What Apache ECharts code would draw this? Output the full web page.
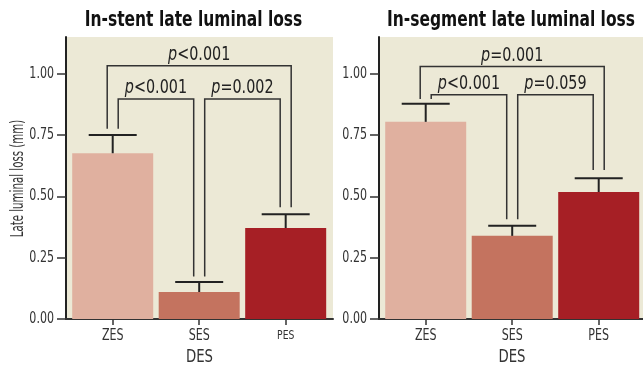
<!DOCTYPE html>
<html><head><meta charset="utf-8">
<script src="https://cdn.jsdelivr.net/npm/echarts@6/dist/echarts.min.js"></script>
<style>html,body{margin:0;padding:0;background:#fff}#c{width:643px;height:367px}</style>
</head><body><div id="c"></div>
<script>
const categories = ['ZES', 'SES', 'PES'];
const stentMean = [0.676, 0.110, 0.371];
const stentUpper = [0.750, 0.151, 0.427];
const segMean = [0.804, 0.339, 0.518];
const segUpper = [0.878, 0.380, 0.574];
const yTicks = [0, 0.25, 0.5, 0.75, 1.0];
const pairs = [[0, 2], [0, 1], [1, 2]];
const stentLevels = [1.033, 0.897, 0.897];
const stentLegEnds = [0.776, 0.173, 0.456];
const stentP = ['<0.001', '<0.001', '=0.002'];
const segLevels = [1.030, 0.915, 0.915];
const segLegEnds = [0.897, 0.407, 0.608];
const segP = ['=0.001', '<0.001', '=0.059'];
const colors = ['#E0B09F', '#C4735F', '#A61F25'];
const catLabelSize = [[15, 15, 12.5], [15, 15, 15]];

const FONT = '"DejaVu Sans Condensed", sans-serif';
const SQ = 0.82;
const chart = echarts.init(document.getElementById('c'), null, {renderer: 'canvas'});
const idxs = categories.map((c, i) => i);

function errSeries(g, mean, upper) {
  return {
    type: 'custom', xAxisIndex: g, yAxisIndex: g, z: 5,
    data: idxs.map(i => [i, mean[i], upper[i]]),
    encode: {x: 0, y: [1, 2]},
    renderItem: function (params, api) {
      const i = api.value(0);
      const p0 = api.coord([i, api.value(1)]);
      const p1 = api.coord([i, api.value(2)]);
      const st = {stroke: '#222', lineWidth: 2};
      return {type: 'group', children: [
        {type: 'line', shape: {x1: p0[0], y1: p0[1], x2: p1[0], y2: p1[1]}, style: st},
        {type: 'line', shape: {x1: p1[0] - 24, y1: p1[1], x2: p1[0] + 24, y2: p1[1]}, style: st}
      ]};
    }
  };
}

function bracketSeries(g, levels, legEnds, plabels) {
  return {
    type: 'custom', xAxisIndex: g, yAxisIndex: g, z: 6,
    data: pairs.map((p, k) => [p[0], p[1], levels[k]]),
    encode: {x: [0, 1], y: 2},
    renderItem: function (params, api) {
      const k = params.dataIndex;
      const from = api.value(0), to = api.value(1), lev = api.value(2);
      const outer = (to - from) === 2;
      const s = 5.5;
      const yTop = api.coord([from, lev])[1];
      const xl = api.coord([from, lev])[0] + (outer ? -s : s);
      const xr = api.coord([to, lev])[0] + (outer ? s : -s);
      const yl = api.coord([from, legEnds[from]])[1];
      const yr = api.coord([to, legEnds[to]])[1];
      return {type: 'group', children: [
        {type: 'polyline', shape: {points: [[xl, yl], [xl, yTop], [xr, yTop], [xr, yr]]},
          style: {stroke: '#333', lineWidth: 1.5, fill: null}},
        {type: 'text', x: (xl + xr) / 2, y: yTop - 1, scaleX: 0.84,
          style: {text: '{i|p}{n|' + plabels[k] + '}', align: 'center', verticalAlign: 'bottom',
            rich: {
              i: {fontStyle: 'italic', fontSize: 19, fontFamily: FONT, fill: '#222'},
              n: {fontSize: 19, fontFamily: FONT, fill: '#222'}
            }}}
      ]};
    }
  };
}

// category labels under the x axis (condensed look)
function catLabelSeries(g) {
  return {
    type: 'custom', xAxisIndex: g, yAxisIndex: g, z: 7, clip: false,
    data: idxs.map(i => [i, 0]),
    encode: {x: 0, y: 1},
    renderItem: function (params, api) {
      const i = api.value(0);
      const p = api.coord([i, 0]);
      return {type: 'text', x: p[0], y: p[1] + 17, scaleX: SQ,
        style: {text: categories[i], fontSize: catLabelSize[g][i], fontFamily: FONT, fill: '#333',
          align: 'center', verticalAlign: 'middle'}};
    }
  };
}

// y tick labels (condensed look)
function yLabelSeries(g) {
  return {
    type: 'custom', xAxisIndex: g, yAxisIndex: g, z: 7, clip: false,
    data: yTicks.map(v => [0, v]),
    encode: {x: 0, y: 1},
    renderItem: function (params, api) {
      const v = api.value(1);
      const p = api.coord([0, v]);
      return {type: 'text', x: params.coordSys.x - 12, y: p[1], scaleX: SQ,
        style: {text: v.toFixed(2), fontSize: 15, fontFamily: FONT, fill: '#333',
          align: 'right', verticalAlign: 'middle'}};
    }
  };
}

function xAxis(g, max) {
  return {
    type: 'value', gridIndex: g, min: -0.54, max: max,
    splitLine: {show: false},
    axisLine: {show: true, onZero: false, lineStyle: {color: '#333', width: 2}},
    axisTick: {show: true, length: 6, customValues: idxs, lineStyle: {color: '#333', width: 1.5}},
    axisLabel: {show: false}
  };
}

function yAxis(g) {
  return {
    type: 'value', gridIndex: g, min: 0, max: 1.15, interval: 0.25,
    splitLine: {show: false},
    axisLine: {show: true, onZero: false, lineStyle: {color: '#222', width: 2}},
    axisTick: {show: true, length: 9, customValues: yTicks, lineStyle: {color: '#333', width: 1.5}},
    axisLabel: {show: false}
  };
}

function barSeries(g, vals) {
  return {
    type: 'bar', xAxisIndex: g, yAxisIndex: g, barWidth: 81,
    data: idxs.map(i => ({value: [i, vals[i]], itemStyle: {color: colors[i]}}))
  };
}

function label(text, x, y, size, sx, extra) {
  return Object.assign({type: 'text', x: x, y: y, scaleX: sx, z: 10,
    style: Object.assign({text: text, fontSize: size, fontFamily: FONT, fill: '#333', align: 'center', verticalAlign: 'middle'}, extra && extra.style || {})},
    extra && extra.rotation ? {rotation: extra.rotation} : {});
}

chart.setOption({
  animation: false,
  graphic: [
    label('In-stent late luminal loss', 193.5, 21, 21, SQ, {style: {fontWeight: 'bold', fill: '#111'}}),
    label('In-segment late luminal loss', 511, 21, 21, SQ, {style: {fontWeight: 'bold', fill: '#111'}}),
    label('DES', 199.5, 357, 18, SQ),
    label('DES', 512, 357, 18, SQ),
    label('Late luminal loss (mm)', 18.5, 178.5, 17, 0.67, {rotation: Math.PI / 2})
  ],
  grid: [
    {left: 66, top: 37, width: 267, height: 282, show: true, backgroundColor: '#ECE9D6', borderWidth: 0, outerBoundsMode: 'none', containLabel: false},
    {left: 379, top: 37, width: 264, height: 282, show: true, backgroundColor: '#ECE9D6', borderWidth: 0, outerBoundsMode: 'none', containLabel: false}
  ],
  xAxis: [xAxis(0, 2.547), xAxis(1, 2.512)],
  yAxis: [yAxis(0), yAxis(1)],
  series: [
    barSeries(0, stentMean), barSeries(1, segMean),
    errSeries(0, stentMean, stentUpper), errSeries(1, segMean, segUpper),
    bracketSeries(0, stentLevels, stentLegEnds, stentP),
    bracketSeries(1, segLevels, segLegEnds, segP),
    catLabelSeries(0), catLabelSeries(1),
    yLabelSeries(0), yLabelSeries(1)
  ]
});
</script></body></html>
